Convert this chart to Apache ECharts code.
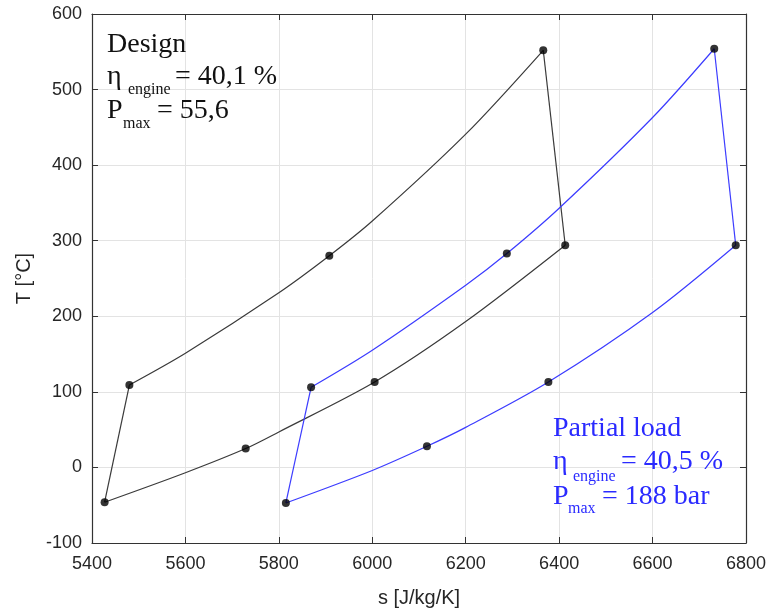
<!DOCTYPE html>
<html>
<head>
<meta charset="utf-8">
<script src="https://cdn.jsdelivr.net/npm/echarts@6/dist/echarts.min.js"></script>
<style>
  html, body { margin: 0; padding: 0; background: #fff; }
  #ts-chart { width: 770px; height: 612px; }
</style>
</head>
<body>
<div id="ts-chart"></div>
<script>
// entropy s [J/kg/K], temperature T [°C]
const designLowS = [5427, 5600, 5729, 5800, 6005, 6200, 6413]
const designLowT = [-46, -7, 25, 47, 113, 193, 294]
const designHighS = [5480, 5600, 5800, 5908, 6000, 6200, 6366]
const designHighT = [109, 151, 231, 280, 326, 441, 552]
const partLowS = [5815, 6000, 6117, 6200, 6377, 6600, 6778]
const partLowT = [-47, -4, 28, 53, 113, 205, 294]
const partHighS = [5869, 6000, 6200, 6288, 6400, 6600, 6732]
const partHighT = [106, 155, 241, 283, 343, 463, 554]

// state points (dots): 1..4 low pressure side, 5..7 high pressure side
const designPtsS = [5427, 5729, 6005, 6413, 6366, 5908, 5480]
const designPtsT = [-46, 25, 113, 294, 552, 280, 109]
const partPtsS = [5815, 6117, 6377, 6778, 6732, 6288, 5869]
const partPtsT = [-47, 28, 113, 294, 554, 283, 106]

const xTicks = [5400, 6800, 200]
const yTicks = [-100, 600, 100]

const pairs = (xs, ys) => xs.map((x, i) => [x, ys[i]])

const black = '#3a3a3a'
const blue = '#3c3cff'
const textBlue = '#2a2aff'
const axisColor = '#333'

function curve(xs, ys, color) {
  return {
    type: 'line', data: pairs(xs, ys), smooth: 0.3, symbol: 'none',
    lineStyle: { color: color, width: 1.2 }, z: 2, silent: true
  }
}
function segment(pts, color) {
  return {
    type: 'line', data: pts, symbol: 'none',
    lineStyle: { color: color, width: 1.2 }, z: 2, silent: true
  }
}

const serif = 'Liberation Serif'
function txt(text, x, baseline, size, color) {
  return {
    type: 'text', x: x, y: baseline, z: 10,
    style: {
      text: text, fill: color,
      font: size + 'px "' + serif + '"',
      textAlign: 'left', textVerticalAlign: 'bottom'
    }
  }
}

const chart = echarts.init(document.getElementById('ts-chart'))

const tickLabel = { fontFamily: 'Liberation Sans', fontSize: 18, color: '#262626' }
const nameStyle = { fontFamily: 'Liberation Sans', fontSize: 20, color: '#262626' }
const frameAxis = {
  axisLine: { show: true, onZero: false, lineStyle: { color: axisColor, width: 1.2 } },
  axisTick: { show: true, inside: true, length: 6, lineStyle: { color: axisColor } },
  axisLabel: { show: false },
  splitLine: { show: false }
}

chart.setOption({
  animation: false,
  grid: { left: 92, right: 24, top: 14, bottom: 69, outerBoundsMode: 'none' },
  xAxis: [{
    type: 'value', min: xTicks[0], max: xTicks[1], interval: xTicks[2],
    name: 's [J/kg/K]', nameLocation: 'middle', nameGap: 45, nameTextStyle: nameStyle,
    axisLine: { show: true, onZero: false, lineStyle: { color: axisColor, width: 1.2 } },
    axisTick: { show: true, inside: true, length: 6, lineStyle: { color: axisColor } },
    axisLabel: Object.assign({ margin: 12, formatter: v => String(v) }, tickLabel),
    splitLine: { show: true, lineStyle: { color: '#e3e3e3', width: 1 } }
  }, Object.assign({
    type: 'value', position: 'top', min: xTicks[0], max: xTicks[1], interval: xTicks[2]
  }, frameAxis)],
  yAxis: [{
    type: 'value', min: yTicks[0], max: yTicks[1], interval: yTicks[2],
    name: 'T [°C]', nameLocation: 'middle', nameGap: 58, nameTextStyle: nameStyle,
    axisLine: { show: true, onZero: false, lineStyle: { color: axisColor, width: 1.2 } },
    axisTick: { show: true, inside: true, length: 6, lineStyle: { color: axisColor } },
    axisLabel: Object.assign({ margin: 10, formatter: v => String(v) }, tickLabel),
    splitLine: { show: true, lineStyle: { color: '#e3e3e3', width: 1 } }
  }, Object.assign({
    type: 'value', position: 'right', min: yTicks[0], max: yTicks[1], interval: yTicks[2]
  }, frameAxis)],
  series: [
    curve(designLowS, designLowT, black),
    curve(designHighS, designHighT, black),
    segment([[designPtsS[0], designPtsT[0]], [designPtsS[6], designPtsT[6]]], black),
    segment([[designPtsS[4], designPtsT[4]], [designPtsS[3], designPtsT[3]]], black),
    curve(partLowS, partLowT, blue),
    curve(partHighS, partHighT, blue),
    segment([[partPtsS[0], partPtsT[0]], [partPtsS[6], partPtsT[6]]], blue),
    segment([[partPtsS[4], partPtsT[4]], [partPtsS[3], partPtsT[3]]], blue),
    {
      type: 'scatter', data: pairs(designPtsS, designPtsT).concat(pairs(partPtsS, partPtsT)),
      symbol: 'circle', symbolSize: 8, itemStyle: { color: '#000' }, z: 5, silent: true
    }
  ],
  graphic: [
    txt('Design', 107, 59, 28, '#111'),
    txt('η', 107, 91, 28, '#111'),
    txt('engine', 128, 98, 16, '#111'),
    txt('= 40,1 %', 175, 91, 28, '#111'),
    txt('P', 107, 125, 28, '#111'),
    txt('max', 123, 132, 16, '#111'),
    txt('= 55,6', 157, 125, 28, '#111'),
    txt('Partial load', 553, 443, 28, textBlue),
    txt('η', 553, 476, 28, textBlue),
    txt('engine', 573, 485, 16, textBlue),
    txt('= 40,5 %', 621, 476, 28, textBlue),
    txt('P', 553, 511, 28, textBlue),
    txt('max', 568, 517, 16, textBlue),
    txt('= 188 bar', 602, 511, 28, textBlue)
  ]
})
</script>
</body>
</html>
